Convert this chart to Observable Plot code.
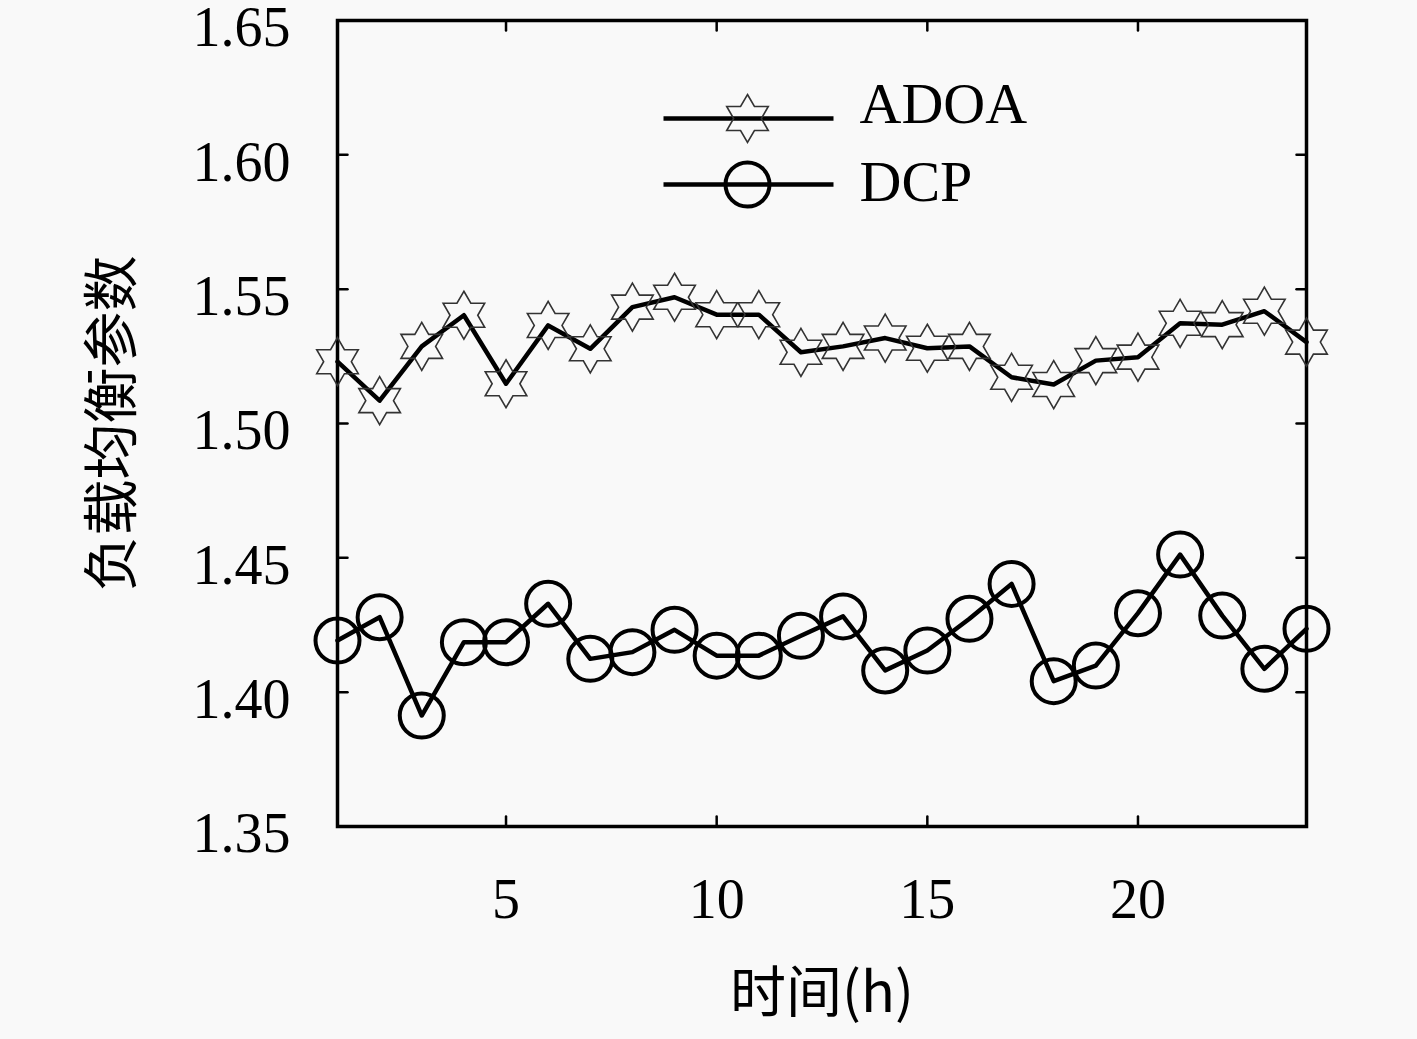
<!DOCTYPE html>
<html><head><meta charset="utf-8">
<script src="https://cdn.jsdelivr.net/npm/d3@7"></script>
<script src="https://cdn.jsdelivr.net/npm/@observablehq/plot@0.6"></script>
<style>
html,body{margin:0;padding:0;background:#f9f9f9;}
#chart svg{display:block;overflow:visible;}
</style></head><body><div id="chart"></div>
<script>
const hours = [1,2,3,4,5,6,7,8,9,10,11,12,13,14,15,16,17,18,19,20,21,22,23,24];
const adoa = [1.523,1.5085,1.5287,1.5403,1.5148,1.5365,1.5278,1.5433,1.547,1.5405,1.5405,1.5265,1.5287,1.5318,1.528,1.5287,1.5172,1.5145,1.5234,1.5247,1.5373,1.5368,1.5418,1.5303];
const dcp = [1.4192,1.4279,1.3913,1.4186,1.4186,1.4329,1.4124,1.4149,1.4232,1.4136,1.4136,1.421,1.4282,1.4081,1.4155,1.4273,1.4403,1.4041,1.4099,1.4294,1.4512,1.4285,1.4087,1.4236];
const seriesNames = ["ADOA", "DCP"];
const xTicks = [5, 10, 15, 20];
const yTicks = [1.35, 1.40, 1.45, 1.50, 1.55, 1.60, 1.65];
const xDomain = [1, 24];
const yDomain = [1.35, 1.65];
const xLabel = "时间(h)";
const yLabel = "负载均衡参数";

const serif = "'Liberation Serif', 'DejaVu Serif', serif";
const cjk = "'Noto Sans CJK SC', sans-serif";

const rows = [
  ...hours.map((h, i) => ({hour: h, value: adoa[i], series: seriesNames[0]})),
  ...hours.map((h, i) => ({hour: h, value: dcp[i], series: seriesNames[1]}))
];

const hexagram = {
  draw(ctx, size) {
    const R = Math.sqrt(size / Math.PI);
    const r = R / Math.sqrt(3);
    for (let i = 0; i < 12; i++) {
      const a = -Math.PI / 2 + i * Math.PI / 6;
      const rr = i % 2 === 0 ? R : r;
      const x = rr * Math.cos(a), y = rr * Math.sin(a);
      if (i) ctx.lineTo(x, y); else ctx.moveTo(x, y);
    }
    ctx.closePath();
  }
};
const hLine = {
  draw(ctx, size) {
    const L = Math.sqrt(size / Math.PI);
    ctx.moveTo(-L, 0); ctx.lineTo(L, 0);
  }
};
const tickShape = {
  draw(ctx, l) { ctx.moveTo(0, 0); ctx.lineTo(0, -l); }
};

const tickOpts = {length: 10, anchor: "start", shape: tickShape, stroke: "black", strokeWidth: 2.5};

const legendLineDy = [98, 164];
const legendTextDy = [61, 139];
const legendMarks = seriesNames.flatMap((name, i) => {
  const dy = legendLineDy[i];
  return [
    Plot.dot([name], {frameAnchor: "top-left", dx: 411, dy, r: 85, symbol: hLine, stroke: "black", strokeWidth: 4.5, fill: "none"}),
    i === 0
      ? Plot.dot([name], {frameAnchor: "top-left", dx: 410, dy, r: 24, symbol: hexagram, stroke: "#333", strokeWidth: 1.6, fill: "none"})
      : Plot.dot([name], {frameAnchor: "top-left", dx: 410, dy, r: 22, stroke: "black", strokeWidth: 4, fill: "none"}),
    Plot.text([name], {frameAnchor: "top-left", dx: 522, dy: legendTextDy[i], text: d => d, textAnchor: "start", lineAnchor: "top", fontSize: 58, fontFamily: serif, fill: "black"})
  ];
});

const chart = Plot.plot({
  width: 1417,
  height: 1039,
  marginLeft: 337,
  marginRight: 111,
  marginTop: 20,
  marginBottom: 213,
  style: {background: "#f9f9f9", color: "black", overflow: "visible"},
  x: {domain: xDomain},
  y: {domain: yDomain},
  marks: [
    Plot.axisY(yTicks, {tickSize: 0, tickPadding: 47, dy: 8, fontSize: 56, fontFamily: serif, tickFormat: d => d.toFixed(2), fill: "black", label: null}),
    Plot.axisX(xTicks, {tickSize: 0, tickPadding: 52, fontSize: 56, fontFamily: serif, tickFormat: d => String(d), fill: "black", label: null}),
    Plot.vector(yTicks, {x: xDomain[0], y: d => d, rotate: 90, ...tickOpts}),
    Plot.vector(yTicks, {x: xDomain[1], y: d => d, rotate: -90, ...tickOpts}),
    Plot.vector(xTicks, {x: d => d, y: yDomain[0], rotate: 0, ...tickOpts}),
    Plot.vector(xTicks, {x: d => d, y: yDomain[1], rotate: 180, ...tickOpts}),
    Plot.frame({stroke: "black", strokeWidth: 3.5}),
    Plot.line(rows, {x: "hour", y: "value", z: "series", stroke: "black", strokeWidth: 4.5}),
    Plot.dot(rows.filter(d => d.series === seriesNames[0]), {x: "hour", y: "value", r: 24, symbol: hexagram, stroke: "#333", strokeWidth: 1.6, fill: "none"}),
    Plot.dot(rows.filter(d => d.series === seriesNames[1]), {x: "hour", y: "value", r: 22, stroke: "black", strokeWidth: 4, fill: "none"}),
    ...legendMarks,
    Plot.text([yLabel], {frameAnchor: "left", dx: -224, text: d => d, rotate: -90, textAnchor: "middle", lineAnchor: "middle", fontSize: 56, fontFamily: cjk, fill: "black"}),
    Plot.text([xLabel], {frameAnchor: "bottom", dy: 168, text: d => d, textAnchor: "middle", lineAnchor: "middle", fontSize: 56, fontFamily: cjk, fill: "black"})
  ]
});
document.getElementById("chart").appendChild(chart);
</script></body></html>
